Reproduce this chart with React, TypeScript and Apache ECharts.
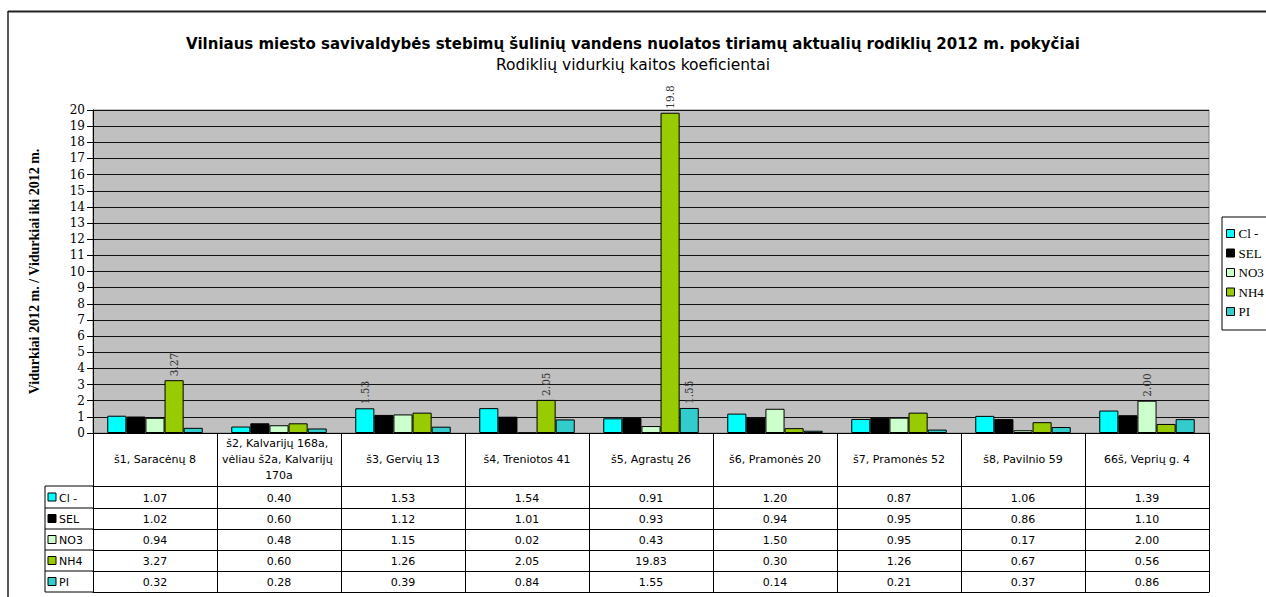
import React, { useEffect, useRef } from "react";
import * as echarts from "echarts";

const categories = [
  "š1, Saracėnų 8",
  "š2, Kalvarijų 168a, vėliau š2a, Kalvarijų 170a",
  "š3, Gervių 13",
  "š4, Treniotos 41",
  "š5, Agrastų 26",
  "š6, Pramonės 20",
  "š7, Pramonės 52",
  "š8, Pavilnio 59",
  "66š, Veprių g. 4",
];

const seriesNames = ["Cl -", "SEL", "NO3", "NH4", "PI"];
const clValues = [1.07, 0.4, 1.53, 1.54, 0.91, 1.2, 0.87, 1.06, 1.39];
const selValues = [1.02, 0.6, 1.12, 1.01, 0.93, 0.94, 0.95, 0.86, 1.1];
const no3Values = [0.94, 0.48, 1.15, 0.02, 0.43, 1.5, 0.95, 0.17, 2.0];
const nh4Values = [3.27, 0.6, 1.26, 2.05, 19.83, 0.3, 1.26, 0.67, 0.56];
const piValues = [0.32, 0.28, 0.39, 0.84, 1.55, 0.14, 0.21, 0.37, 0.86];
const seriesValues = [clValues, selValues, no3Values, nh4Values, piValues];
// indices of labelled bars per series
const labelledPoints = [[2], [], [8], [0, 3, 4], [4]];
const seriesColors = ["#00FFFF", "#000000", "#CCFFCC", "#99CC00", "#33CCCC"];
const yTicks = { min: 0, max: 20, interval: 1 };

const W = 1266;
const H = 597;
const GRID_LEFT = 93;
const GRID_RIGHT_X = 1209;
const GRID_TOP = 110;
const GRID_BOTTOM_Y = 433;
const HEADER_H = 53;
const ROW_LINES = [486, 508, 529, 550, 571, 592];
const SANS = "DejaVu Sans";

export default function App() {
  const ref = useRef<HTMLDivElement>(null);
  useEffect(() => {
    if (!ref.current) return;
    const chart = echarts.init(ref.current, null, { renderer: "svg" });

    const series = seriesNames.map((name, i) => ({
      name,
      type: "bar",
      xAxisIndex: 0,
      yAxisIndex: 0,
      barGap: "0%",
      barCategoryGap: "23%",
      itemStyle: { color: seriesColors[i], borderColor: "#000", borderWidth: 1 },
      data: seriesValues[i].map((v, j) =>
        labelledPoints[i].includes(j)
          ? {
              value: v,
              label: {
                show: true,
                position: "top",
                rotate: 90,
                align: "left",
                verticalAlign: "middle",
                distance: 4,
                fontFamily: "DejaVu Serif",
                fontSize: 10.5,
                color: "#333",
                formatter: (p: any) => Number(p.value).toPrecision(3),
              },
            }
          : v
      ),
    }));

    const rowAxes: any[] = seriesNames.map((_, i) => {
      const top = ROW_LINES[i];
      const h = ROW_LINES[i + 1] - ROW_LINES[i];
      return {
        type: "category",
        gridIndex: 0,
        position: "bottom",
        offset: top - GRID_BOTTOM_Y,
        data: seriesValues[i].map((v) => v.toFixed(2)),
        axisLine: { show: true, lineStyle: { color: "#000", width: 1 } },
        axisTick: { show: true, length: h, lineStyle: { color: "#000" } },
        axisLabel: {
          interval: 0,
          margin: h / 2 + 1,
          verticalAlign: "middle",
          fontFamily: SANS,
          fontSize: 11,
          color: "#000",
        },
        splitLine: { show: false },
      };
    });
    rowAxes.push({
      type: "category",
      gridIndex: 0,
      position: "bottom",
      offset: ROW_LINES[ROW_LINES.length - 1] - GRID_BOTTOM_Y,
      data: categories,
      axisLine: { show: true, lineStyle: { color: "#000", width: 1 } },
      axisTick: { show: false },
      axisLabel: { show: false },
    });

    const graphics: any[] = [];
    graphics.push({ type: "line", shape: { x1: 8, y1: 11.5, x2: W, y2: 11.5 }, style: { stroke: "#222", lineWidth: 2 } });
    graphics.push({ type: "line", shape: { x1: 8, y1: 11, x2: 8, y2: H }, style: { stroke: "#222", lineWidth: 1.5 } });
    ROW_LINES.forEach((y) => {
      graphics.push({ type: "line", shape: { x1: 45, y1: y, x2: GRID_LEFT, y2: y }, style: { stroke: "#000", lineWidth: 1 } });
    });
    graphics.push({
      type: "line",
      shape: { x1: 45, y1: ROW_LINES[0], x2: 45, y2: ROW_LINES[ROW_LINES.length - 1] },
      style: { stroke: "#000", lineWidth: 1 },
    });
    seriesNames.forEach((name, i) => {
      const cy = (ROW_LINES[i] + ROW_LINES[i + 1]) / 2;
      graphics.push({
        type: "rect",
        shape: { x: 48, y: cy - 4, width: 8, height: 8 },
        style: { fill: seriesColors[i], stroke: "#000", lineWidth: 1 },
      });
      graphics.push({
        type: "text",
        x: 59,
        y: cy + 1,
        style: {
          text: name,
          font: "11px 'DejaVu Sans'",
          fill: "#000",
          verticalAlign: "middle",
        },
      });
    });

    chart.setOption({
      animation: false,
      backgroundColor: "#fff",
      title: [
        {
          text: "Vilniaus miesto savivaldybės stebimų šulinių vandens nuolatos tiriamų aktualių rodiklių 2012 m. pokyčiai",
          left: "center",
          top: 31,
          textStyle: { fontFamily: SANS, fontWeight: "bold", fontSize: 15, color: "#000" },
        },
        {
          text: "Rodiklių vidurkių kaitos koeficientai",
          left: "center",
          top: 52,
          textStyle: { fontFamily: SANS, fontWeight: "normal", fontSize: 15.5, color: "#000" },
        },
      ],
      legend: {
        orient: "vertical",
        left: 1222,
        top: 217,
        itemWidth: 8,
        itemHeight: 8,
        itemGap: 6.5,
        icon: "rect",
        padding: [10, 10, 12, 4],
        borderColor: "#000",
        borderWidth: 1,
        backgroundColor: "#fff",
        itemStyle: { borderColor: "#000", borderWidth: 1 },
        textStyle: { fontFamily: "Liberation Serif", fontSize: 13, color: "#000", lineHeight: 12, padding: [0, 0, 0, -1] },
        data: seriesNames,
      },
      grid: {
        left: GRID_LEFT,
        right: W - GRID_RIGHT_X,
        top: GRID_TOP,
        bottom: H - GRID_BOTTOM_Y,
        show: true,
        backgroundColor: "#C0C0C0",
        borderColor: "#808080",
        borderWidth: 1,
      },
      xAxis: [
        {
          type: "category",
          gridIndex: 0,
          data: categories,
          axisLine: { show: true, lineStyle: { color: "#000", width: 1 } },
          axisTick: { show: true, length: HEADER_H, lineStyle: { color: "#000" } },
          axisLabel: {
            interval: 0,
            margin: 26,
            verticalAlign: "middle",
            width: 130,
            overflow: "break",
            lineHeight: 16,
            fontFamily: SANS,
            fontSize: 11,
            color: "#000",
          },
        },
        ...rowAxes,
      ],
      yAxis: {
        type: "value",
        min: yTicks.min,
        max: yTicks.max,
        interval: yTicks.interval,
        name: "Vidurkiai 2012 m. / Vidurkiai iki 2012 m.",
        nameLocation: "middle",
        nameGap: 52,
        nameTextStyle: { fontFamily: "Liberation Serif", fontWeight: "bold", fontSize: 14, color: "#000" },
        axisLine: { show: true, lineStyle: { color: "#000", width: 1 } },
        axisTick: { show: true, length: 6, lineStyle: { color: "#000" } },
        axisLabel: { margin: 8, fontFamily: "DejaVu Serif", fontSize: 12, color: "#000" },
        splitLine: { show: true, lineStyle: { color: "#111", width: 1 } },
      },
      graphic: graphics,
      series,
    });

    return () => chart.dispose();
  }, []);

  return (
    <div
      ref={ref}
      style={{ position: "fixed", left: 0, top: 0, width: W, height: H }}
    />
  );
}
